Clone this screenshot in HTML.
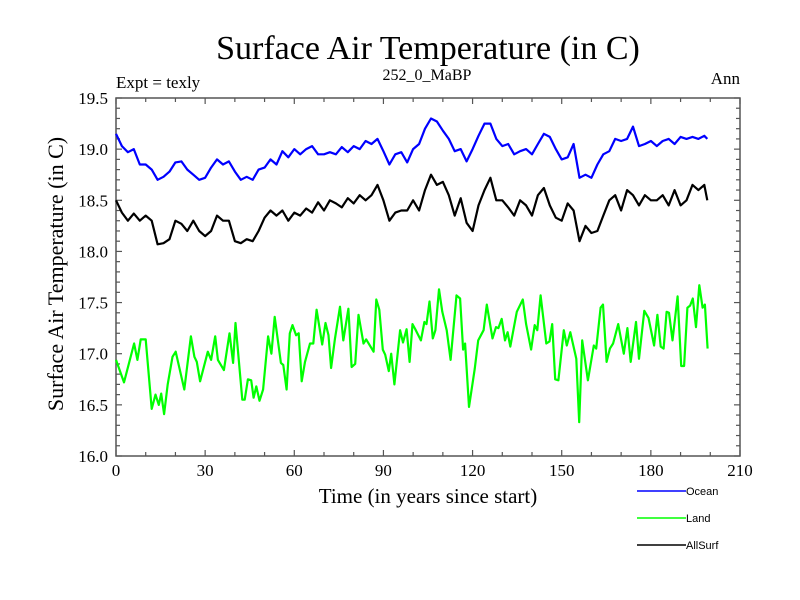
<!DOCTYPE html>
<html><head><meta charset="utf-8"><style>
body{margin:0;background:#fff;width:800px;height:600px;overflow:hidden}
svg{display:block}
text{font-family:"Liberation Serif",serif;fill:#000}
</style></head><body>
<svg id="chart" width="800" height="600">
<text x="428" y="59" font-size="34" text-anchor="middle">Surface Air Temperature (in C)</text>
<text x="116" y="88" font-size="17">Expt = texly</text>
<text x="427" y="80" font-size="16" text-anchor="middle">252_0_MaBP</text>
<text x="740" y="84" font-size="17" text-anchor="end">Ann</text>
<text x="428" y="503" font-size="21" text-anchor="middle">Time (in years since start)</text>
<text transform="translate(63,274) rotate(-90)" font-size="22" text-anchor="middle">Surface Air Temperature (in C)</text>
<g id="plot"></g>
<g id="legend"></g>
</svg>
<script>
const xTicks=[0,30,60,90,120,150,180,210];
const yTicks=[16.0,16.5,17.0,17.5,18.0,18.5,19.0,19.5];
const evenYears=[0,2,4,6,8,10,12,14,16,18,20,22,24,26,28,30,32,34,36,38,40,42,44,46,48,50,52,54,56,58,60,62,64,66,68,70,72,74,76,78,80,82,84,86,88,90,92,94,96,98,100,102,104,106,108,110,112,114,116,118,120,122,124,126,128,130,132,134,136,138,140,142,144,146,148,150,152,154,156,158,160,162,164,166,168,170,172,174,176,178,180,182,184,186,188,190,192,194,196,198,199];
const oceanValues=[19.15,19.03,18.97,19.0,18.85,18.85,18.8,18.7,18.73,18.78,18.87,18.88,18.8,18.75,18.7,18.72,18.82,18.9,18.85,18.88,18.78,18.7,18.73,18.7,18.8,18.82,18.9,18.85,18.98,18.92,19.0,18.95,19.0,19.03,18.95,18.95,18.97,18.95,19.02,18.97,19.03,19.0,19.08,19.05,19.1,18.98,18.85,18.95,18.97,18.87,19.0,19.05,19.2,19.3,19.27,19.18,19.1,18.98,19.0,18.88,19.0,19.13,19.25,19.25,19.1,19.03,19.05,18.95,18.98,19.0,18.95,19.05,19.15,19.12,19.0,18.9,18.92,19.05,18.72,18.75,18.72,18.85,18.95,18.98,19.1,19.08,19.1,19.22,19.03,19.05,19.08,19.03,19.08,19.1,19.05,19.12,19.1,19.12,19.1,19.13,19.1];
const allSurfValues=[18.5,18.38,18.3,18.37,18.3,18.35,18.3,18.07,18.08,18.12,18.3,18.27,18.2,18.3,18.2,18.15,18.2,18.35,18.3,18.3,18.1,18.08,18.12,18.1,18.2,18.33,18.4,18.35,18.4,18.3,18.38,18.35,18.42,18.38,18.48,18.4,18.5,18.47,18.43,18.52,18.47,18.55,18.5,18.55,18.65,18.5,18.3,18.38,18.4,18.4,18.5,18.4,18.6,18.75,18.65,18.68,18.55,18.35,18.52,18.28,18.2,18.45,18.6,18.72,18.5,18.5,18.43,18.35,18.5,18.45,18.35,18.55,18.62,18.45,18.33,18.3,18.47,18.4,18.1,18.25,18.18,18.2,18.35,18.5,18.55,18.4,18.6,18.55,18.45,18.55,18.5,18.5,18.55,18.45,18.6,18.45,18.5,18.65,18.6,18.65,18.5];
const landYears=[0,2.7,6.1,7.2,8.3,10,12,13.3,14.4,15.2,16.2,17.4,19,20.1,23,25.2,26.4,27.2,28.3,30.9,32,33.4,34.3,36.3,38.2,39.4,40.2,42.5,43.3,44.4,45.5,46.3,47.2,48.3,49.5,51.2,52.3,53.4,55.5,56.3,57.4,58.5,59.4,60.6,61.5,62.5,63.6,65.3,66.4,67.5,69.4,70.5,71.5,72.4,73.7,75.4,76.5,78.2,79.3,80.5,81.6,83.3,84.2,86.7,87.6,88.6,89.8,90.6,91.8,92.6,93.7,95.6,96.6,97.8,98.8,99.8,100.9,102.6,103.8,104.5,105.5,106.6,107.5,108.7,109.8,111.3,112.6,114.6,115.8,116.8,117.5,118.8,120.7,121.9,123.7,124.8,126.7,127.9,128.7,129.8,130.9,131.8,132.7,134.9,136.9,138,139.7,140.9,141.8,142.9,144.8,145.9,146.8,147.8,148.9,150.7,151.7,152.9,154.9,155.9,156.9,158.8,160.8,161.6,163.1,163.9,165.1,166.2,167.3,169,170.9,172.1,173.2,175,176,177.8,179.2,181.1,182.2,183.3,184.3,185.3,186.1,187.3,189,190.2,191.2,192.3,193.2,194.1,195.2,196.3,197.4,198.2,199.1];
const landValues=[16.94,16.72,17.1,16.94,17.14,17.14,16.46,16.6,16.5,16.61,16.41,16.7,16.97,17.02,16.65,17.17,16.97,16.92,16.73,17.02,16.94,17.17,16.94,16.84,17.2,16.91,17.3,16.55,16.55,16.75,16.74,16.57,16.68,16.54,16.65,17.17,17.0,17.36,16.91,16.89,16.65,17.2,17.28,17.18,17.2,16.73,16.92,17.1,17.1,17.43,17.09,17.3,17.18,16.86,17.15,17.46,17.13,17.44,16.87,16.9,17.38,17.1,17.14,17.02,17.53,17.43,17.04,16.99,16.83,17.0,16.7,17.23,17.11,17.24,16.92,17.29,17.23,17.13,17.31,17.29,17.51,17.15,17.23,17.63,17.41,17.23,16.94,17.57,17.54,17.04,17.1,16.48,16.85,17.13,17.23,17.48,17.15,17.26,17.25,17.34,17.13,17.21,17.07,17.41,17.53,17.29,17.04,17.28,17.23,17.57,17.1,17.12,17.29,16.75,16.74,17.23,17.08,17.21,16.95,16.33,17.13,16.74,17.08,17.05,17.45,17.48,16.92,17.05,17.1,17.29,17.0,17.25,16.92,17.31,16.95,17.42,17.35,17.08,17.38,17.07,17.05,17.41,17.4,17.13,17.56,16.88,16.88,17.45,17.47,17.54,17.26,17.67,17.45,17.48,17.05];

const L=116,R=740,T=98,B=456,xMin=0,xMax=210,yMin=16,yMax=19.5;
const sx=v=>L+(v-xMin)/(xMax-xMin)*(R-L);
const sy=v=>B-(v-yMin)/(yMax-yMin)*(B-T);
const NS="http://www.w3.org/2000/svg";
const plot=document.getElementById('plot');
function mk(tag,attrs,parent){const e=document.createElementNS(NS,tag);for(const k in attrs)e.setAttribute(k,attrs[k]);parent.appendChild(e);return e;}

const frame=mk('rect',{x:L,y:T,width:R-L,height:B-T,fill:'none',stroke:'#555','stroke-width':1.5},plot);



for(let v=0;v<=210;v+=10){
  const len=(v%30===0)?6:4;
  const x=sx(v);
  const t1=mk('line',{x1:x,x2:x,y1:B,y2:B-len,stroke:'#555','stroke-width':1.2},plot);
  
  
  const t2=mk('line',{x1:x,x2:x,y1:T,y2:T+len,stroke:'#555','stroke-width':1.2},plot);
  
  
}
for(let i=0;i<=35;i++){
  const v=16+i*0.1;
  const len=(i%5===0)?6:4;
  const y=sy(v);
  const t1=mk('line',{x1:L,x2:L+len,y1:y,y2:y,stroke:'#555','stroke-width':1.2},plot);
  
  
  const t2=mk('line',{x1:R,x2:R-len,y1:y,y2:y,stroke:'#555','stroke-width':1.2},plot);
  
  
}
xTicks.forEach(v=>{
  const t=mk('text',{x:sx(v),y:B+20,'font-size':17,'text-anchor':'middle'},plot);
  t.textContent=String(v);
  
  
});
yTicks.forEach(v=>{
  const t=mk('text',{x:L-8,y:sy(v)+6,'font-size':17,'text-anchor':'end'},plot);
  t.textContent=v.toFixed(1);
  
  
});
function series(xs,ys,color,name){
  const d=xs.map((x,i)=>(i?'L':'M')+sx(x).toFixed(1)+' '+sy(ys[i]).toFixed(1)).join(' ');
  const p=mk('path',{d:d,fill:'none',stroke:color,'stroke-width':2.2,'stroke-linejoin':'round'},plot);
  
  
}
series(evenYears,oceanValues,'#0000ff','ocean-line');
series(evenYears,allSurfValues,'#000000','allsurf-line');
series(landYears,landValues,'#00ff00','land-line');

const legend=document.getElementById('legend');
const items=[['Ocean','#0000ff',491],['Land','#00ff00',518],['AllSurf','#000000',545]];
items.forEach(it=>{
  const ln=mk('line',{x1:637,x2:686,y1:it[2],y2:it[2],stroke:it[1],'stroke-width':1.5},legend);
  
  
  const t=mk('text',{x:686,y:it[2]+4,'font-size':11,style:'font-family:"Liberation Sans",sans-serif'},legend);
  t.textContent=it[0];
  
  
});
</script>
</body></html>
